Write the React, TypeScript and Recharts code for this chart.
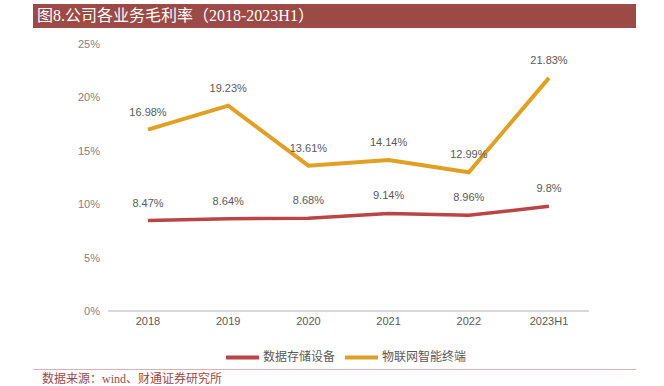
import React from 'react'
import { LineChart, Line, XAxis, YAxis, Legend, LabelList } from 'recharts'

const years = ['2018', '2019', '2020', '2021', '2022', '2023H1']
const storage = [8.47, 8.64, 8.68, 9.14, 8.96, 9.8]
const iot = [16.98, 19.23, 13.61, 14.14, 12.99, 21.83]
const yTicks = [0, 5, 10, 15, 20, 25]

const data = years.map((year, i) => ({ year, storage: storage[i], iot: iot[i] }))

const labelFont = { fontSize: 11, fill: '#595959', fontFamily: 'Liberation Sans, Arial, sans-serif' }

const App: React.FC = () => {
  return (
    <div style={{ position: 'absolute', left: 0, top: 0, width: 664, height: 386, background: '#fff' }}>
      <div
        style={{
          position: 'absolute',
          left: 33,
          top: 4,
          width: 603,
          height: 24,
          background: '#9b4a45',
          color: '#fff',
          fontFamily: '"Liberation Serif", "Noto Sans CJK SC", serif',
          fontSize: 16,
          lineHeight: '24px',
          paddingLeft: 4,
          boxSizing: 'border-box',
        }}
      >
        图8.公司各业务毛利率（2018-2023H1）
      </div>
      <LineChart
        width={664}
        height={386}
        data={data}
        margin={{ top: 44, right: 75, bottom: 25, left: 0 }}
        style={{ position: 'absolute', left: 0, top: 0 }}
      >
        <XAxis
          dataKey="year"
          padding={{ left: 40, right: 40 }}
          tickLine={false}
          tickSize={4}
          axisLine={{ stroke: '#d9d9d9', strokeWidth: 2 }}
          tick={labelFont}
          height={30}
        />
        <YAxis
          width={108}
          domain={[0, 25]}
          ticks={yTicks}
          tickFormatter={(v: number) => `${v}%`}
          axisLine={false}
          tickLine={false}
          tick={{ ...labelFont, fill: '#7f7f7f' }}
        />
        <Legend
          verticalAlign="bottom"
          height={20}
          iconType="plainline"
          iconSize={33}
          wrapperStyle={{ left: 110, width: 482, fontSize: 12, fontFamily: '"Noto Sans CJK SC", sans-serif' }}
          formatter={(value: string) => <span style={{ color: '#595959' }}>{value}</span>}
        />
        <Line
          name="数据存储设备"
          dataKey="storage"
          stroke="#b94545"
          strokeWidth={3.5}
          dot={false}
          type="linear"
          isAnimationActive={false}
        >
          <LabelList dataKey="storage" position="top" offset={14} formatter={(v: number) => `${v}%`} style={labelFont} />
        </Line>
        <Line
          name="物联网智能终端"
          dataKey="iot"
          stroke="#e0a024"
          strokeWidth={4}
          dot={false}
          type="linear"
          isAnimationActive={false}
        >
          <LabelList dataKey="iot" position="top" offset={14} formatter={(v: number) => `${v}%`} style={labelFont} />
        </Line>
      </LineChart>
      <div style={{ position: 'absolute', left: 33, top: 369, width: 603, height: 1, background: '#d8b2b0' }} />
      <div
        style={{
          position: 'absolute',
          left: 42,
          top: 373,
          fontSize: 12,
          lineHeight: '13px',
          color: '#9b4a45',
          fontFamily: '"Liberation Serif", "Noto Sans CJK SC", serif',
          whiteSpace: 'nowrap',
        }}
      >
        数据来源：wind、财通证券研究所
      </div>
    </div>
  )
}

export default App
